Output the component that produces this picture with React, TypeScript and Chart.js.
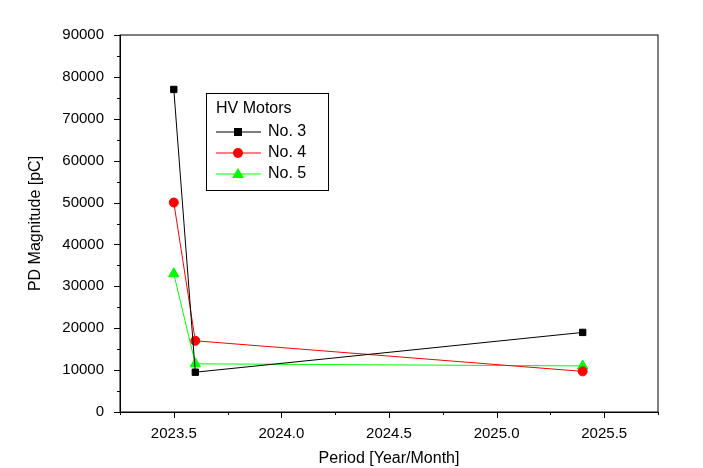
import React, { useEffect, useRef } from "react";
import { Chart, registerables } from "chart.js";
Chart.register(...registerables);

const periods3 = [2023.5, 2023.6, 2025.4];
const no3 = [77000, 9500, 19000];
const no4 = [50000, 17000, 9700];
const no5 = [33000, 11500, 11000];
const seriesLabels = ["No. 3", "No. 4", "No. 5"];
const legendTitle = "HV Motors";
const xTitle = "Period [Year/Month]";
const yTitle = "PD Magnitude [pC]";

const FONT = "'Liberation Sans', Arial, sans-serif";

const framePlugin = {
  id: "frame",
  afterDraw(chart: any) {
    const { ctx, chartArea: a, scales } = chart;
    ctx.save();
    ctx.strokeStyle = "#000";
    ctx.lineWidth = 1;
    ctx.strokeRect(a.left, a.top, a.right - a.left, a.bottom - a.top);
    ctx.beginPath();
    for (let v = 0; v <= 90000; v += 5000) {
      const y = Math.round(scales.y.getPixelForValue(v)) + 0.5;
      const len = v % 10000 === 0 ? 6 : 3;
      ctx.moveTo(a.left - len, y);
      ctx.lineTo(a.left, y);
    }
    for (let v = 2023.25; v <= 2025.751; v += 0.25) {
      const x = Math.round(scales.x.getPixelForValue(v)) + 0.5;
      const len = Math.abs((v * 2) % 1) < 1e-6 ? 6 : 3;
      ctx.moveTo(x, a.bottom);
      ctx.lineTo(x, a.bottom + len);
    }
    ctx.stroke();
    const lx = 206, ly = 93, lw = 122, lh = 97;
    ctx.strokeRect(lx + 0.5, ly + 0.5, lw, lh);
    ctx.fillStyle = "#000";
    ctx.font = `16px ${FONT}`;
    ctx.textBaseline = "middle";
    ctx.fillText(legendTitle, lx + 10, ly + 16);
    chart.data.datasets.forEach((ds: any, i: number) => {
      const y = ly + 39 + i * 21;
      ctx.strokeStyle = ds.borderColor;
      ctx.beginPath();
      ctx.moveTo(lx + 10, y);
      ctx.lineTo(lx + 55, y);
      ctx.stroke();
      ctx.fillStyle = ds.pointBackgroundColor;
      const cx = lx + 32;
      ctx.beginPath();
      if (ds.pointStyle === "rect") ctx.rect(cx - 4, y - 4, 8, 8);
      else if (ds.pointStyle === "circle") ctx.arc(cx, y, 5, 0, Math.PI * 2);
      else { ctx.moveTo(cx, y - 6); ctx.lineTo(cx + 6, y + 4); ctx.lineTo(cx - 6, y + 4); ctx.closePath(); }
      ctx.fill();
      ctx.fillStyle = "#000";
      ctx.fillText(ds.label, lx + 62, y);
    });
    ctx.restore();
  },
};

export default function App() {
  const ref = useRef<HTMLCanvasElement>(null);
  useEffect(() => {
    const mk = (vals: number[]) => vals.map((v, i) => ({ x: periods3[i], y: v }));
    const chart = new Chart(ref.current!, {
      type: "line",
      data: {
        datasets: [
          { label: seriesLabels[0], data: mk(no3), borderColor: "#000", pointBackgroundColor: "#000", pointBorderColor: "#000", pointStyle: "rect", pointRadius: 4.5, borderWidth: 1 },
          { label: seriesLabels[1], data: mk(no4), borderColor: "#ff0000", pointBackgroundColor: "#ff0000", pointBorderColor: "#ff0000", pointStyle: "circle", pointRadius: 4.5, borderWidth: 1 },
          { label: seriesLabels[2], data: mk(no5), borderColor: "#00ff00", pointBackgroundColor: "#00ff00", pointBorderColor: "#00ff00", pointStyle: "triangle", pointRadius: 6, borderWidth: 1 },
        ],
      },
      options: {
        animation: false,
        responsive: false,
        layout: { padding: { top: 35, right: 45, left: 22, bottom: 0 } },
        plugins: { legend: { display: false }, tooltip: { enabled: false } },
        scales: {
          x: {
            type: "linear", min: 2023.25, max: 2025.75,
            afterBuildTicks: (s: any) => { s.ticks = [2023.5, 2024, 2024.5, 2025, 2025.5].map((v) => ({ value: v })); },
            afterFit: (s: any) => { s.height = 56; },
            grid: { display: false }, border: { display: true, color: "#000" },
            ticks: { color: "#000", font: { family: FONT, size: 15 }, padding: 5, maxRotation: 0, callback: (v: any) => Number(v).toFixed(1) },
            title: { display: true, text: xTitle, color: "#000", font: { family: FONT, size: 16 }, padding: { top: 4, bottom: 0 } },
          },
          y: {
            min: 0, max: 90000,
            ticks: { stepSize: 10000, color: "#000", font: { family: FONT, size: 15 }, padding: 8, callback: (v: any) => String(v) },
            afterFit: (s: any) => { s.width = 98; },
            grid: { display: false }, border: { display: true, color: "#000" },
            title: { display: true, text: yTitle, color: "#000", font: { family: FONT, size: 16 }, padding: { bottom: 2 } },
          },
        },
      },
      plugins: [framePlugin],
    });
    return () => chart.destroy();
  }, []);
  return (
    <div style={{ position: "absolute", left: 0, top: 0, width: 703, height: 468, background: "#fff" }}>
      <canvas ref={ref} width={703} height={468} />
    </div>
  );
}
